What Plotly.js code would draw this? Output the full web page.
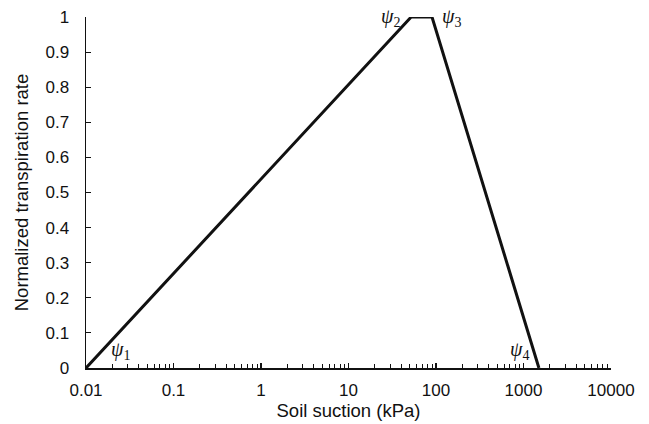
<!DOCTYPE html>
<html>
<head>
<meta charset="utf-8">
<script src="https://cdn.plot.ly/plotly-3.0.1.min.js"></script>
<style>html,body{margin:0;padding:0;background:#fff;}#chart{width:649px;height:424px;}</style>
</head>
<body>
<div id="chart"></div>
<script>
const suction = [0.01, 52, 90, 1500];
const rate = [0, 1, 1, 0];
const xTickVals = [0.01, 0.1, 1, 10, 100, 1000, 10000];
const xTickText = ["0.01", "0.1", "1", "10", "100", "1000", "10000"];
const yTickVals = [0, 0.1, 0.2, 0.3, 0.4, 0.5, 0.6, 0.7, 0.8, 0.9, 1];
const yTickText = ["0", "0.1", "0.2", "0.3", "0.4", "0.5", "0.6", "0.7", "0.8", "0.9", "1"];
const labelText = ["<i>ψ</i><sub>1</sub>", "<i>ψ</i><sub>2</sub>", "<i>ψ</i><sub>3</sub>", "<i>ψ</i><sub>4</sub>"];
const labelX = [0.025, 30, 150, 900];
const labelY = [0.05, 1.0, 1.0, 0.05];

const minorVals = [];
for (let e = -2; e < 4; e++) {
  for (let m = 2; m <= 9; m++) minorVals.push(m * Math.pow(10, e));
}

const trace = {
  x: suction, y: rate, type: 'scatter', mode: 'lines',
  line: {color: '#111', width: 3}, cliponaxis: false, hoverinfo: 'none'
};

const annotations = labelText.map((t, i) => ({
  x: Math.log10(labelX[i]), y: labelY[i], xref: 'x', yref: 'y',
  text: t, showarrow: false,
  font: {family: 'Liberation Serif, Times New Roman, serif', size: 20, color: '#111'}
}));

const layout = {
  width: 649, height: 424,
  margin: {l: 86, r: 38, t: 17, b: 56},
  paper_bgcolor: '#fff', plot_bgcolor: '#fff',
  showlegend: false,
  font: {family: 'Liberation Sans, Arial, sans-serif', size: 17, color: '#111'},
  xaxis: {
    type: 'log', range: [-2, 4],
    tickmode: 'array', tickvals: xTickVals, ticktext: xTickText,
    ticks: 'inside', ticklen: 5, tickwidth: 1.2, tickcolor: '#111',
    ticklabelstandoff: 6,
    showline: true, linecolor: '#111', linewidth: 1.5,
    showgrid: false, zeroline: false,
    minor: {tickmode: 'array', tickvals: minorVals, ticks: 'inside', ticklen: 4, tickwidth: 1, tickcolor: '#111', showgrid: false},
    tickfont: {size: 17},
    automargin: false,
    title: {text: 'Soil suction (kPa)', font: {size: 18.5}, standoff: 4}
  },
  yaxis: {
    range: [0, 1],
    tickmode: 'array', tickvals: yTickVals, ticktext: yTickText,
    ticks: 'inside', ticklen: 5, tickwidth: 1.2, tickcolor: '#111',
    ticklabelstandoff: 12,
    showline: true, linecolor: '#111', linewidth: 1.5,
    showgrid: false, zeroline: false,
    tickfont: {size: 17},
    automargin: false,
    title: {text: 'Normalized transpiration rate', font: {size: 18.5}, standoff: 12}
  },
  annotations: annotations
};

Plotly.newPlot('chart', [trace], layout, {staticPlot: true});
</script>
</body>
</html>
